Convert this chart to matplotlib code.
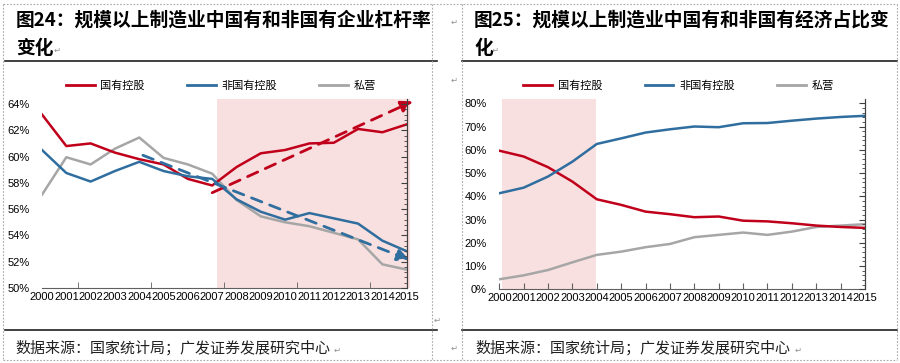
import numpy as np
import matplotlib
matplotlib.use('Agg')
import matplotlib.pyplot as plt
from matplotlib.lines import Line2D
from matplotlib.ticker import MultipleLocator, FixedLocator

plt.rcParams['font.family'] = ['Noto Sans CJK SC', 'DejaVu Sans']

years = list(range(2000, 2016))
year_labels = [str(y) for y in years]

# 图24 杠杆率 (%)
lev_state = [63.2, 60.8, 61.0, 60.3, 59.8, 59.4, 58.3, 57.8, 59.2, 60.25, 60.5, 61.0, 61.05, 62.1, 61.85, 62.45]
lev_nonstate = [60.5, 58.75, 58.1, 58.9, 59.6, 58.9, 58.5, 58.3, 56.75, 55.8, 55.2, 55.7, 55.3, 54.9, 53.6, 52.8]
lev_private = [57.1, 59.95, 59.4, 60.6, 61.45, 59.9, 59.4, 58.7, 56.7, 55.45, 55.0, 54.7, 54.2, 53.7, 51.8, 51.4]
trend_state = [(2007.0, 57.25), (2015.25, 64.2)]
trend_nonstate = [(2004.15, 60.1), (2015.1, 52.15)]

# 图25 经济占比 (%)
share_state = [59.6, 57.1, 52.5, 46.3, 38.7, 36.3, 33.4, 32.3, 31.0, 31.3, 29.5, 29.2, 28.4, 27.4, 26.8, 26.4]
share_nonstate = [41.3, 43.7, 48.5, 54.9, 62.5, 64.9, 67.4, 68.8, 70.0, 69.7, 71.4, 71.5, 72.5, 73.4, 74.1, 74.6]
share_private = [4.3, 6.0, 8.3, 11.6, 14.8, 16.2, 18.1, 19.5, 22.4, 23.4, 24.4, 23.4, 24.8, 26.8, 27.4, 28.0]

names = ['国有控股', '非国有控股', '私营']
c_red, c_blue, c_gray = '#C0001B', '#2F6E9E', '#A6A6A6'
c_shade = '#F8E0E0'

W, H = 900, 363
fig = plt.figure(figsize=(9, 3.63), dpi=100)


def px_axes(x0, x1, ytop, ybot):
    return fig.add_axes([x0 / W, 1 - ybot / H, (x1 - x0) / W, (ybot - ytop) / H])


def style_axes(ax, ylim, ystep):
    ax.set_xlim(2000, 2015)
    ax.set_ylim(*ylim)
    for s in ['top', 'left']:
        ax.spines[s].set_visible(False)
    ax.spines['bottom'].set_color('#606060')
    ax.spines['right'].set_color('#404040')
    ax.set_xticks(years)
    ax.set_xticklabels(year_labels, family='Liberation Sans', fontsize=8)
    ticks = np.arange(ylim[0], ylim[1] + 0.01, ystep)
    ax.set_yticks(ticks)
    ax.set_yticklabels(['%d%%' % v for v in ticks], family='Liberation Sans', fontsize=8)
    ax.tick_params(axis='y', length=0, pad=9)
    ax.tick_params(axis='x', pad=3)
    # right axis: tick marks only
    axr = ax.twinx()
    axr.set_ylim(*ylim)
    for s in ['top', 'left', 'bottom']:
        axr.spines[s].set_visible(False)
    axr.spines['right'].set_color('#404040')
    axr.yaxis.set_major_locator(MultipleLocator(ystep))
    axr.yaxis.set_minor_locator(MultipleLocator(ystep / 5))
    axr.tick_params(axis='y', which='major', direction='in', length=4, labelright=False, color='#404040')
    axr.tick_params(axis='y', which='minor', direction='in', length=2, color='#404040')
    return axr


def legend(ax):
    h = [Line2D([], [], color=c, lw=2) for c in (c_red, c_blue, c_gray)]
    ax.legend(h, names, ncol=3, loc='center', bbox_to_anchor=(0.49, 1.07), frameon=False,
              fontsize=8, handlelength=2.6, handletextpad=0.5, columnspacing=3.8)


# ---- left chart ----
ax1 = px_axes(42, 406.7, 99, 288)
style_axes(ax1, (50, 64.38), 2)
ax1.xaxis.set_minor_locator(FixedLocator(np.arange(2000, 2015.1, 1.5)))
ax1.tick_params(axis='x', which='major', length=0)
ax1.tick_params(axis='x', which='minor', direction='in', length=4, color='#606060')
ax1.axvspan(2007.2, 2015.15, color=c_shade, lw=0, zorder=0, clip_on=False)
ax1.plot(years, lev_state, color=c_red, lw=1.8, zorder=3)
ax1.plot(years, lev_nonstate, color=c_blue, lw=1.8, zorder=3)
ax1.plot(years, lev_private, color=c_gray, lw=1.8, zorder=2)
for (p0, p1), col in [(trend_state, c_red), (trend_nonstate, c_blue)]:
    ax1.annotate('', xy=p1, xytext=p0, annotation_clip=False,
                 arrowprops=dict(arrowstyle='-|>,head_length=0.7,head_width=0.35', color=col,
                                 lw=2, linestyle=(0, (4, 3)), shrinkA=0, shrinkB=0))
legend(ax1)

# ---- right chart ----
ax2 = px_axes(499.3, 865, 99.3, 289.3)
style_axes(ax2, (0, 81.7), 10)
ax2.tick_params(axis='x', which='major', direction='in', length=4, color='#606060')
ax2.axvspan(2000.1, 2003.97, color=c_shade, lw=0, zorder=0)
ax2.plot(years, share_state, color=c_red, lw=1.8, zorder=3)
ax2.plot(years, share_nonstate, color=c_blue, lw=1.8, zorder=3)
ax2.plot(years, share_private, color=c_gray, lw=1.8, zorder=2)
legend(ax2)

# ---- titles, source and borders ----
tkw = dict(fontsize=13.5, fontweight='bold', va='center', ha='left')
fig.text(16 / W, 1 - 20 / H, '图24：规模以上制造业中国有和非国有企业杠杆率', **tkw)
fig.text(16 / W, 1 - 48 / H, '变化', **tkw)
fig.text(474 / W, 1 - 20 / H, '图25：规模以上制造业中国有和非国有经济占比变', **tkw)
fig.text(474 / W, 1 - 48 / H, '化', **tkw)
skw = dict(fontsize=10.8, va='center', ha='left', color='#202020')
fig.text(15 / W, 1 - 348 / H, '数据来源：国家统计局；广发证券发展研究中心', **skw)
fig.text(475 / W, 1 - 348 / H, '数据来源：国家统计局；广发证券发展研究中心', **skw)

mkw = dict(fontsize=6, color='#909090', va='center', ha='left')
for x, y in [(54, 50), (492, 50), (334, 350), (795, 350), (451, 22), (451, 80), (434, 320), (451, 348)]:
    fig.text(x / W, 1 - y / H, '↵', **mkw)


def hline(y, x0, x1, **kw):
    fig.add_artist(Line2D([x0 / W, x1 / W], [1 - y / H, 1 - y / H], **kw))


def vline(x, y0, y1, **kw):
    fig.add_artist(Line2D([x / W, x / W], [1 - y0 / H, 1 - y1 / H], **kw))


dot = dict(color='#A8A8A8', lw=0.8, linestyle=(0, (1.5, 1.5)))
hline(61, 5, 437, color='#202020', lw=1.2)
hline(61, 462, 897, color='#202020', lw=1.2)
hline(330, 5, 437, color='#202020', lw=1.2)
hline(330, 462, 897, color='#202020', lw=1.2)
hline(4, 3, 897, **dot)
hline(360, 3, 897, **dot)
vline(3, 4, 360, **dot)
vline(432, 4, 360, **dot)
vline(462, 4, 360, **dot)
vline(897, 4, 360, **dot)

fig.savefig('out.png', dpi=100)
